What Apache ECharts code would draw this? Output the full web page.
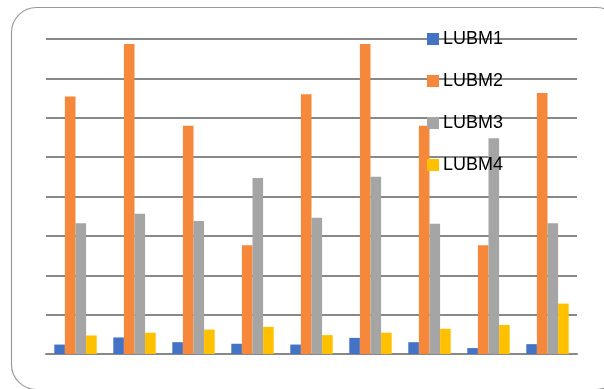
<!DOCTYPE html>
<html>
<head>
<meta charset="utf-8">
<script src="https://cdn.jsdelivr.net/npm/echarts@6/dist/echarts.min.js"></script>
<style>
  html, body { margin: 0; padding: 0; background: #fff; }
  #chart { width: 604px; height: 389px; }
</style>
</head>
<body>
<div id="chart"></div>
<script>
// 数据（按图估读，单位 = 一格网格线）
var categories = ['1', '2', '3', '4', '5', '6', '7', '8', '9'];
var lubm1 = [0.24, 0.42, 0.30, 0.26, 0.24, 0.41, 0.30, 0.15, 0.25];
var lubm2 = [6.54, 7.87, 5.80, 2.76, 6.60, 7.87, 5.80, 2.76, 6.63];
var lubm3 = [3.32, 3.56, 3.38, 4.47, 3.46, 4.50, 3.31, 5.48, 3.32];
var lubm4 = [0.47, 0.54, 0.62, 0.69, 0.48, 0.54, 0.64, 0.74, 1.28];

var myChart = echarts.init(document.getElementById('chart'));

var makeBar = function(name, data, color){
  return {
    name: name,
    type: 'bar',
    data: data,
    barWidth: 10.6,
    barGap: '0%',
    itemStyle: { color: color }
  };
};

var option = {
  animation: false,
  graphic: [
    {
      type: 'rect',
      left: 9, top: 5,
      shape: { width: 610, height: 382, r: 25 },
      style: { fill: 'none', stroke: '#9a9a9a', lineWidth: 1.2 },
      z: 0
    }
  ],
  legend: {
    orient: 'vertical',
    left: 427,
    top: 30,
    padding: 0,
    itemWidth: 12,
    itemHeight: 12,
    itemGap: 24,
    icon: 'rect',
    textStyle: { fontFamily: 'Liberation Sans', fontSize: 18, color: '#000', padding: [0, 0, 0, -1] },
    data: ['LUBM1', 'LUBM2', 'LUBM3', 'LUBM4']
  },
  grid: {
    left: 46,
    right: 27,
    top: 39,
    bottom: 35
  },
  xAxis: {
    type: 'category',
    data: categories,
    axisLabel: { show: false },
    axisTick: { show: false },
    axisLine: { lineStyle: { color: '#888', width: 2 } }
  },
  yAxis: {
    type: 'value',
    min: 0,
    max: 8,
    interval: 1,
    axisLabel: { show: false },
    axisLine: { show: false },
    axisTick: { show: false },
    splitLine: { lineStyle: { color: '#888', width: 2 } }
  },
  series: [
    makeBar('LUBM1', lubm1, '#4472c4'),
    makeBar('LUBM2', lubm2, '#f5883a'),
    makeBar('LUBM3', lubm3, '#a5a5a5'),
    makeBar('LUBM4', lubm4, '#ffc000')
  ]
};

myChart.setOption(option);
</script>
</body>
</html>
